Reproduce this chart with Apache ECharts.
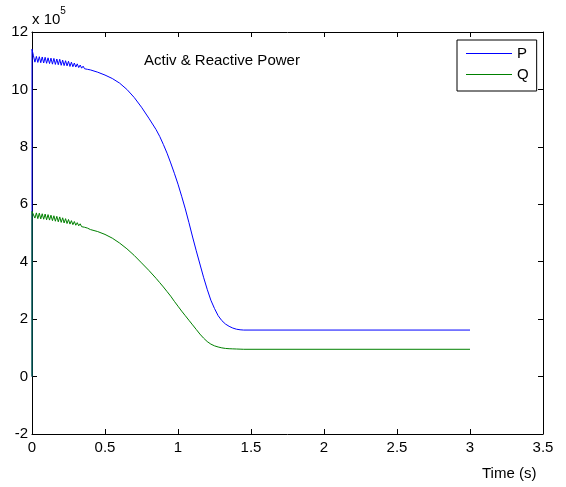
<!DOCTYPE html>
<html>
<head>
<meta charset="utf-8">
<script src="https://cdn.jsdelivr.net/npm/echarts@6/dist/echarts.min.js"></script>
<style>
  html, body { margin: 0; padding: 0; background: #fff; }
  #chart { width: 566px; height: 487px; }
</style>
</head>
<body>
<div id="chart"></div>
<script>
// time (s)
const time = [
  0, 0,
  0.01, 0.02, 0.03, 0.04, 0.05, 0.06, 0.07, 0.08, 0.09, 0.10,
  0.11, 0.12, 0.13, 0.14, 0.15, 0.16, 0.17, 0.18, 0.19, 0.20,
  0.21, 0.22, 0.23, 0.24, 0.25, 0.26, 0.27, 0.28, 0.29, 0.30,
  0.31, 0.32, 0.33, 0.34, 0.35, 0.36, 0.37, 0.38, 0.39, 0.40,
  0.45, 0.50, 0.55, 0.60, 0.65, 0.70, 0.75, 0.80, 0.85, 0.875,
  0.90, 0.925, 0.95, 0.975, 1.00, 1.025, 1.05, 1.075, 1.10, 1.125,
  1.15, 1.175, 1.20, 1.225, 1.25, 1.275, 1.30, 1.325, 1.35, 1.375,
  1.40, 1.425, 1.45, 3.00
];

// active power P (x 10^5)
const pValues = [
  0, 11.4,
  11.17, 10.95, 11.15, 10.94, 11.14, 10.93, 11.13, 10.92, 11.12, 10.91,
  11.10, 10.90, 11.09, 10.88, 11.08, 10.87, 11.06, 10.86, 11.05, 10.84,
  11.02, 10.83, 11.00, 10.82, 10.98, 10.80, 10.95, 10.79, 10.92, 10.78,
  10.89, 10.76, 10.85, 10.74, 10.81, 10.72, 10.77, 10.70, 10.73, 10.68,
  10.60, 10.50, 10.38, 10.22, 10.00, 9.72, 9.38, 9.00, 8.60, 8.36,
  8.08, 7.78, 7.44, 7.08, 6.70, 6.28, 5.84, 5.36, 4.86, 4.38,
  3.92, 3.46, 3.04, 2.66, 2.37, 2.12, 1.95, 1.83, 1.75, 1.69,
  1.65, 1.63, 1.62, 1.62
];

// reactive power Q (x 10^5)
const qValues = [
  0, 5.75,
  5.72, 5.52, 5.70, 5.50, 5.69, 5.49, 5.67, 5.48, 5.66, 5.46,
  5.64, 5.45, 5.62, 5.43, 5.60, 5.41, 5.58, 5.39, 5.56, 5.37,
  5.53, 5.35, 5.50, 5.33, 5.47, 5.31, 5.43, 5.29, 5.40, 5.27,
  5.36, 5.25, 5.32, 5.22, 5.28, 5.20, 5.24, 5.17, 5.19, 5.12,
  5.05, 4.95, 4.82, 4.65, 4.45, 4.22, 3.96, 3.70, 3.42, 3.27,
  3.12, 2.96, 2.80, 2.62, 2.45, 2.28, 2.12, 1.96, 1.80, 1.64,
  1.48, 1.34, 1.22, 1.13, 1.07, 1.03, 1.00, 0.98, 0.97, 0.965,
  0.96, 0.955, 0.95, 0.95
];

const xTicks = [0, 0.5, 1, 1.5, 2, 2.5, 3, 3.5];
const yTicks = [-2, 0, 2, 4, 6, 8, 10, 12];

const font = "Liberation Sans, Arial, sans-serif";

const chart = echarts.init(document.getElementById("chart"), null, {
  renderer: "canvas",
});

// box frame: same axis drawn on all four sides, ticks pointing in
const frameAxis = {
  type: "value",
  axisLine: { show: true, onZero: false, lineStyle: { color: "#000", width: 1 } },
  axisTick: { show: true, inside: true, length: 5, lineStyle: { color: "#000" } },
  splitLine: { show: false },
};

chart.setOption({
  backgroundColor: "#fff",
  animation: false,
  grid: { left: 32, right: 23, top: 32, bottom: 53 },
  title: {
    text: "Activ & Reactive Power",
    left: 139,
    top: 48,
    textStyle: { fontFamily: font, fontSize: 15, fontWeight: "normal", color: "#000" },
  },
  legend: {
    left: 457,
    top: 40,
    orient: "vertical",
    data: ["P", "Q"],
    icon: "path://M0,0 L46,0 L46,1 L0,1 Z",
    itemWidth: 46,
    itemHeight: 1,
    itemGap: 6,
    padding: [6, 8, 9, 9],
    borderColor: "#000",
    borderWidth: 1,
    borderRadius: 0,
    backgroundColor: "#fff",
    textStyle: { fontFamily: font, fontSize: 15, lineHeight: 14, color: "#000" },
  },
  xAxis: [
    {
      ...frameAxis,
      min: 0,
      max: 3.5,
      interval: 0.5,
      position: "bottom",
      axisLabel: {
        color: "#000",
        fontFamily: font,
        fontSize: 15,
        margin: 6,
        formatter: (v) => (xTicks.includes(v) ? String(v) : ""),
      },
    },
    {
      ...frameAxis,
      min: 0,
      max: 3.5,
      interval: 0.5,
      position: "top",
      axisLabel: { show: false },
    },
  ],
  yAxis: [
    {
      ...frameAxis,
      min: -2,
      max: 12,
      interval: 2,
      position: "left",
      axisLabel: {
        color: "#000",
        fontFamily: font,
        fontSize: 15,
        margin: 4,
        formatter: (v) => (yTicks.includes(v) ? String(v) : ""),
      },
    },
    {
      ...frameAxis,
      min: -2,
      max: 12,
      interval: 2,
      position: "right",
      axisLabel: { show: false },
    },
  ],
  graphic: [
    {
      type: "text",
      left: 32,
      top: 6,
      style: {
        text: "{a|x 10}{b|5}",
        rich: {
          a: { fontFamily: font, fontSize: 15, fill: "#000", padding: [6, 0, 0, 0] },
          b: { fontFamily: font, fontSize: 10, fill: "#000", verticalAlign: "top" },
        },
      },
    },
    {
      type: "text",
      left: 482,
      top: 466,
      style: { text: "Time (s)", fontFamily: font, fontSize: 15, fill: "#000" },
    },
  ],
  series: [
    {
      name: "P",
      type: "line",
      xAxisIndex: 0,
      yAxisIndex: 0,
      symbol: "none",
      lineStyle: { color: "#0000ff", width: 1 },
      itemStyle: { color: "#0000ff" },
      data: time.map((t, i) => [t, pValues[i]]),
    },
    {
      name: "Q",
      type: "line",
      xAxisIndex: 0,
      yAxisIndex: 0,
      symbol: "none",
      lineStyle: { color: "#008000", width: 1 },
      itemStyle: { color: "#008000" },
      data: time.map((t, i) => [t, qValues[i]]),
    },
  ],
});
</script>
</body>
</html>
